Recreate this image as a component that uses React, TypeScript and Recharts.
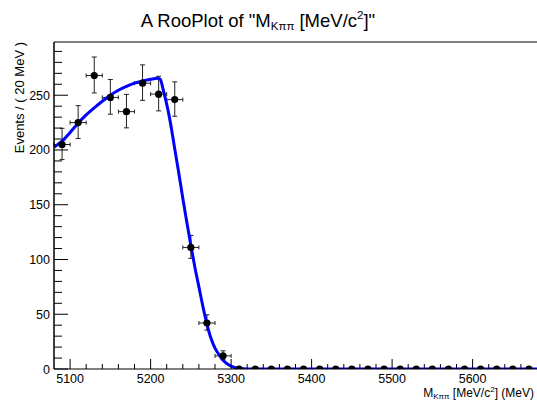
import {
  ComposedChart,
  Line,
  Scatter,
  ErrorBar,
  XAxis,
  YAxis,
  ReferenceLine,
} from "recharts";

// binned data: 20 MeV bins from 5080 to 5680
const binCenters = [
  5090, 5110, 5130, 5150, 5170, 5190, 5210, 5230, 5250, 5270, 5290, 5310, 5330,
  5350, 5370, 5390, 5410, 5430, 5450, 5470, 5490, 5510, 5530, 5550, 5570, 5590,
  5610, 5630, 5650, 5670,
];
const binCounts = [
  205, 225, 268, 248, 235, 261, 251, 246, 111, 42, 12, 0, 0, 0, 0, 0, 0, 0, 0, 0,
  0, 0, 0, 0, 0, 0, 0, 0, 0, 0,
];
// asymmetric Poisson errors (low / high)
const errLow = [13.8, 14.5, 15.9, 15.3, 14.8, 15.7, 15.3, 15.2, 10.0, 6.5, 3.5];
const errHigh = [14.8, 15.5, 16.9, 16.3, 15.8, 16.7, 16.3, 16.2, 11.0, 7.5, 4.6];
const binHalfWidth = 10;

// fitted pdf curve
const curveMass = [
  5080, 5090, 5100, 5110, 5120, 5130, 5140, 5150, 5160, 5170, 5180, 5190, 5200,
  5208, 5212, 5215, 5218, 5222, 5226, 5230, 5235, 5240, 5245, 5250, 5255, 5260,
  5265, 5270, 5275, 5280, 5285, 5290, 5295, 5300, 5305, 5310, 5320, 5400, 5500,
  5600, 5680,
];
const curveValue = [
  202.5, 208, 216, 224.5, 232, 238.5, 244.5, 250, 254.5, 258, 261, 263, 264.5,
  265.5, 264.5, 257, 248, 235, 219, 201, 179, 156, 134, 113, 93, 75, 57, 41, 28,
  19, 13, 8, 4.8, 2.6, 1.2, 0.4, 0, 0, 0, 0, 0,
];

const xMajorTicks = [5100, 5200, 5300, 5400, 5500, 5600];
const yMajorTicks = [0, 50, 100, 150, 200, 250];
const X_MIN = 5080;
const X_MAX = 5680;
const Y_MAX = 298.6;

const xTicks: number[] = [];
for (let v = 5100; v < X_MAX; v += 20) xTicks.push(v);
const yTicks: number[] = [];
for (let v = 0; v < Y_MAX; v += 10) yTicks.push(v);

const points = binCenters.map((m, i) => ({
  m,
  n: binCounts[i],
  ex: binHalfWidth,
  ey: [errLow[i] ?? 0, errHigh[i] ?? 0],
}));
const filledBins = points.filter((p) => p.n > 0);
const emptyBins = points.filter((p) => p.n === 0);
const curve = curveMass.map((m, i) => ({ m, v: curveValue[i] }));

const FONT = '"Liberation Sans", Arial, Helvetica, sans-serif';

const XTick = (props: any) => {
  const { x, y, payload } = props;
  const major = xMajorTicks.includes(payload.value);
  return (
    <g>
      <line x1={x} x2={x} y1={y} y2={y - (major ? 10 : 5)} stroke="#000" />
      {major && (
        <text x={x} y={y + 14} textAnchor="middle" fontSize={12.5} fontFamily={FONT} fill="#000">
          {payload.value}
        </text>
      )}
    </g>
  );
};

const YTick = (props: any) => {
  const { x, y, payload } = props;
  const major = yMajorTicks.includes(payload.value);
  return (
    <g>
      <line x1={x} x2={x + (major ? 14 : 8)} y1={y} y2={y} stroke="#000" />
      {major && (
        <text x={x - 4} y={y + 4.5} textAnchor="end" fontSize={12.5} fontFamily={FONT} fill="#000">
          {payload.value}
        </text>
      )}
    </g>
  );
};

const dot = (props: any) => <circle cx={props.cx} cy={props.cy} r={3.6} fill="#000" />;

export default function App() {
  return (
    <div style={{ position: "absolute", left: 0, top: 0, width: 537, height: 408, background: "#fff" }}>
      <ComposedChart
        width={537}
        height={408}
        margin={{ top: 42, right: 0, bottom: 0, left: 0 }}
      >
        <XAxis
          dataKey="m"
          type="number"
          domain={[X_MIN, X_MAX]}
          allowDataOverflow
          ticks={xTicks}
          interval={0}
          height={39}
          tickSize={0}
          tickMargin={0}
          tick={<XTick />}
          axisLine={{ stroke: "#000", strokeWidth: 1 }}
          tickLine={false}
        />
        <YAxis
          type="number"
          domain={[0, Y_MAX]}
          allowDataOverflow
          ticks={yTicks}
          interval={0}
          width={54}
          tickSize={0}
          tickMargin={0}
          tick={<YTick />}
          axisLine={{ stroke: "#000", strokeWidth: 1.5 }}
          tickLine={false}
        />
        <ReferenceLine y={Y_MAX} stroke="#000" strokeWidth={1} />
        <Scatter data={filledBins} dataKey="n" shape={dot} isAnimationActive={false}>
          <ErrorBar dataKey="ex" direction="x" width={2} stroke="#222" strokeWidth={1} isAnimationActive={false} />
          <ErrorBar dataKey="ey" direction="y" width={2.5} stroke="#222" strokeWidth={1} isAnimationActive={false} />
        </Scatter>
        <Line
          data={curve}
          dataKey="v"
          type="monotone"
          stroke="#0000ff"
          strokeWidth={3}
          dot={false}
          activeDot={false}
          isAnimationActive={false}
        />
        <Scatter data={emptyBins} dataKey="n" shape={dot} isAnimationActive={false} />
      </ComposedChart>
      <svg
        width={537}
        height={408}
        style={{ position: "absolute", left: 0, top: 0, pointerEvents: "none" }}
        fontFamily={FONT}
      >
        <text x={258} y={27} textAnchor="middle" fontSize={18.5} fill="#000">
          A RooPlot of "M
          <tspan fontSize={11.5} dy={3}>Kππ</tspan>
          <tspan dy={-3}> [MeV/c</tspan>
          <tspan fontSize={11.5} dy={-8}>2</tspan>
          <tspan dy={8}>]"</tspan>
        </text>
        <text
          transform="translate(24 42) rotate(-90)"
          textAnchor="end"
          fontSize={13}
          fill="#000"
        >
          Events / ( 20 MeV )
        </text>
        <text x={534} y={397} textAnchor="end" fontSize={12} fill="#000">
          M
          <tspan fontSize={8} dy={2}>Kππ</tspan>
          <tspan dy={-2}> [MeV/c</tspan>
          <tspan fontSize={8} dy={-5}>2</tspan>
          <tspan dy={5}>] (MeV)</tspan>
        </text>
      </svg>
    </div>
  );
}
